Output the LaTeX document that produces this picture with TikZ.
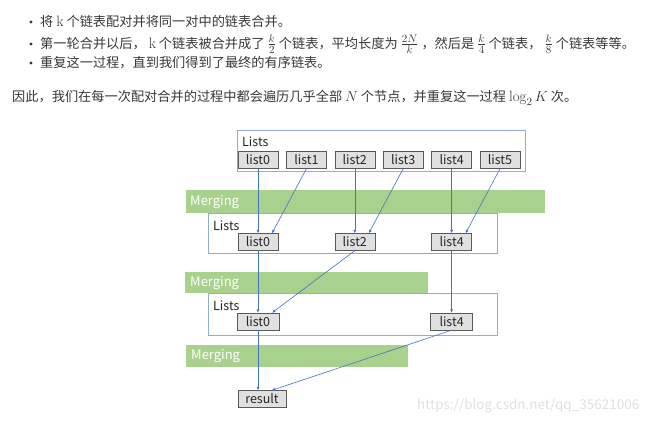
\documentclass[tikz,border=0pt]{standalone}
\usepackage{fontspec}
\usepackage{amsmath}
\usetikzlibrary{positioning, arrows.meta}
\newfontfamily\cjk{Noto Sans CJK SC}
\newcommand\mth[1]{{\fontsize{15}{16}\selectfont$#1$}}
\definecolor{linkblue}{RGB}{68, 114, 196}
\definecolor{frameblue}{RGB}{143, 170, 220}
\definecolor{mergegreen}{RGB}{169, 209, 142}
\definecolor{boxgray}{RGB}{224, 224, 224}
\definecolor{txtgray}{RGB}{55, 55, 55}

\begin{document}
\begin{tikzpicture}[x=1pt, y=-1pt,
  bodytext/.style={anchor=west, inner sep=0pt, text=txtgray, font=\cjk\fontsize{13.2}{16}\selectfont},
  listbox/.style={draw=black!65, fill=boxgray, minimum width=40, minimum height=17, inner sep=0pt, text=black!85, font=\cjk\fontsize{12.5}{12.5}\selectfont},
  frame/.style={draw=frameblue, line width=0.8pt, anchor=north west, inner sep=0pt},
  tag/.style={anchor=west, inner sep=0pt, text=black!85, font=\cjk\fontsize{12.5}{12.5}\selectfont},
  mergebar/.style={fill=mergegreen, anchor=north west, inner sep=0pt},
  mergetext/.style={anchor=west, inner sep=0pt, text=white, font=\cjk\fontsize{13}{13}\selectfont},
  link/.style={draw=linkblue, line width=0.6pt, -{Latex[length=3.5pt, width=3pt]}}]
  \useasboundingbox (0,0) rectangle (650,423);

  % text above the picture
  \foreach \y in {22,44,63}
    \fill[txtgray] (31,\y) circle (1.6);
  \node[bodytext] (line1) at (40,22) {将 \mth{\mathrm{k}} 个链表配对并将同一对中的链表合并。};
  \node[bodytext] (line2) at (40,44) {第一轮合并以后， \mth{\mathrm{k}} 个链表被合并成了 \mth{\frac{k}{2}} 个链表，平均长度为 \mth{\frac{2N}{k}} ，然后是 \mth{\frac{k}{4}} 个链表， \mth{\frac{k}{8}} 个链表等等。};
  \node[bodytext] (line3) at (40,63) {重复这一过程，直到我们得到了最终的有序链表。};
  \node[bodytext] (para) at (12,98) {因此，我们在每一次配对合并的过程中都会遍历几乎全部 \mth{N} 个节点，并重复这一过程 \mth{\log_2 K} 次。};

  % first row
  \node[frame, minimum width=288, minimum height=41] (top) at (237,130) {};
  \node[tag] (toptag) at (242,142) {Lists};
  \node[listbox] (a0) at (258,160) {list0};
  \foreach \i [count=\j from 0] in {1,...,5}
    \node[listbox, right=8pt of a\j] (a\i) {list\i};

  % merging 1
  \node[mergebar, minimum width=359, minimum height=23] (m1) at (186,190) {};
  \node[mergetext, right=4pt of m1.west] (m1text) {Merging};

  % second row
  \node[frame, minimum width=289, minimum height=40] (mid) at (208,213) {};
  \node[tag] (midtag) at (213,226) {Lists};
  \foreach \i in {0,2,4}
    \node[listbox] (b\i) at (a\i |- 0,242) {list\i};

  % merging 2
  \node[mergebar, minimum width=243, minimum height=21] (m2) at (185,272) {};
  \node[mergetext, right=5pt of m2.west] (m2text) {Merging};

  % third row
  \node[frame, minimum width=289, minimum height=42] (low) at (208,293) {};
  \node[tag] (lowtag) at (213,306) {Lists};
  \foreach \i in {0,4}
    \node[listbox, minimum width=42] (c\i) at (a\i |- 0,321.5) {list\i};

  % merging 3
  \node[mergebar, minimum width=222, minimum height=22] (m3) at (186,345) {};
  \node[mergetext, right=5pt of m3.west] (m3text) {Merging};

  \node[listbox, minimum width=48, anchor=west] (res) at (a0.west |- 0,399) {result};

  % arrows
  \foreach \i [evaluate=\i as \k using int(\i+1)] in {0,2,4} {
    \draw[link] (a\i) -- (b\i);
    \draw[link] (a\k.south) -- ([xshift=14pt]b\i.north);
  }
  \draw[link] (b0) -- (c0);
  \draw[link] (b2.south) -- ([xshift=14pt]c0.north);
  \draw[link] (b4) -- (c4);
  \draw[link] (c0.south) -- (c0.south |- res.north);
  \draw[link] (c4.south) -- ([xshift=34pt]res.north west);

  \node[anchor=west, inner sep=0pt, text=black!12, font=\cjk\fontsize{13.5}{14}\selectfont] (mark) at (417,406) {https://blog.csdn.net/qq\_35621006};
\end{tikzpicture}
\end{document}
